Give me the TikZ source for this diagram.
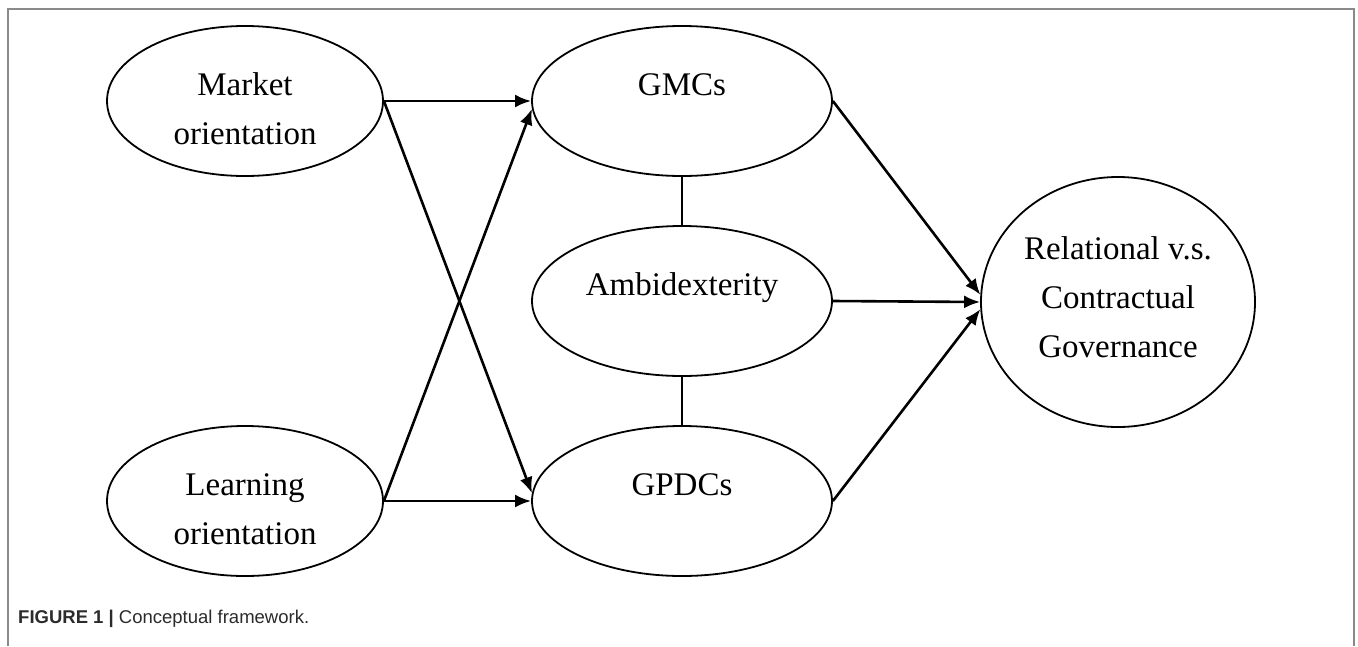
\documentclass[tikz,border=0pt]{standalone}
\usepackage{fontspec}
\setmainfont{Liberation Serif}
\newfontfamily\capfont{Liberation Sans}
\usetikzlibrary{shapes.geometric, arrows.meta}

\definecolor{framegray}{HTML}{8A8A8A}
\definecolor{capgray}{HTML}{2B2B2B}

\tikzset{
  construct/.style={draw, ellipse, line width=1.8pt, inner sep=0pt,
    minimum height=150pt, align=center,
    font=\fontsize{33}{49}\selectfont, text height=86pt, text depth=0pt},
  single/.style={text height=23pt, text depth=35pt},
  link/.style={line width=2.6pt},
  tie/.style={line width=2.2pt}
}

\begin{document}
\begin{tikzpicture}[x=1pt, y=-1pt, >={Latex[length=16pt,width=13pt]}]
\useasboundingbox (0,0) rectangle (1358,646);

% frame round the figure
\draw [framegray, line width=1.4pt] (8,646) -- (8,9) -- (1354,9) -- (1354,646);

% orientations
\node [construct, minimum width=276pt] (market) at (245,101) {Market\\orientation};
\node [construct, minimum width=276pt] (learning) at (245,501) {Learning\\orientation};

% capabilities and ambidexterity
\foreach \n/\t/\y in {gmc/GMCs/101, ambi/Ambidexterity/301, gpdc/GPDCs/501}
  \node [construct, single, minimum width=300pt] (\n) at (682,\y) {\t};

% governance
\node [construct, minimum width=274pt, minimum height=250pt,
  text height=110pt, text depth=0pt] (gov) at (1118,302)
  {Relational v.s.\\Contractual\\Governance};

% edges from orientations
\draw [->, link] (market.east) -- (gmc.west);
\draw [->, link] (market.east) -- (gpdc.177);
\draw [->, link] (learning.east) -- (gmc.183);
\draw [->, link] (learning.east) -- (gpdc.west);

% ties in the middle column
\draw [tie] (gmc.south) -- (ambi.north);
\draw [tie] (ambi.south) -- (gpdc.north);

% edges to governance
\foreach \n/\a in {gmc/177, ambi/180, gpdc/183}
  \draw [->, link] (\n.east) -- (gov.\a);

\node [anchor=base west, font=\capfont\fontsize{18.5}{22}\selectfont, text=capgray,
  inner sep=0pt] (caption) at (18,623)
  {\textbf{FIGURE 1 |} Conceptual framework.};
\end{tikzpicture}
\end{document}
